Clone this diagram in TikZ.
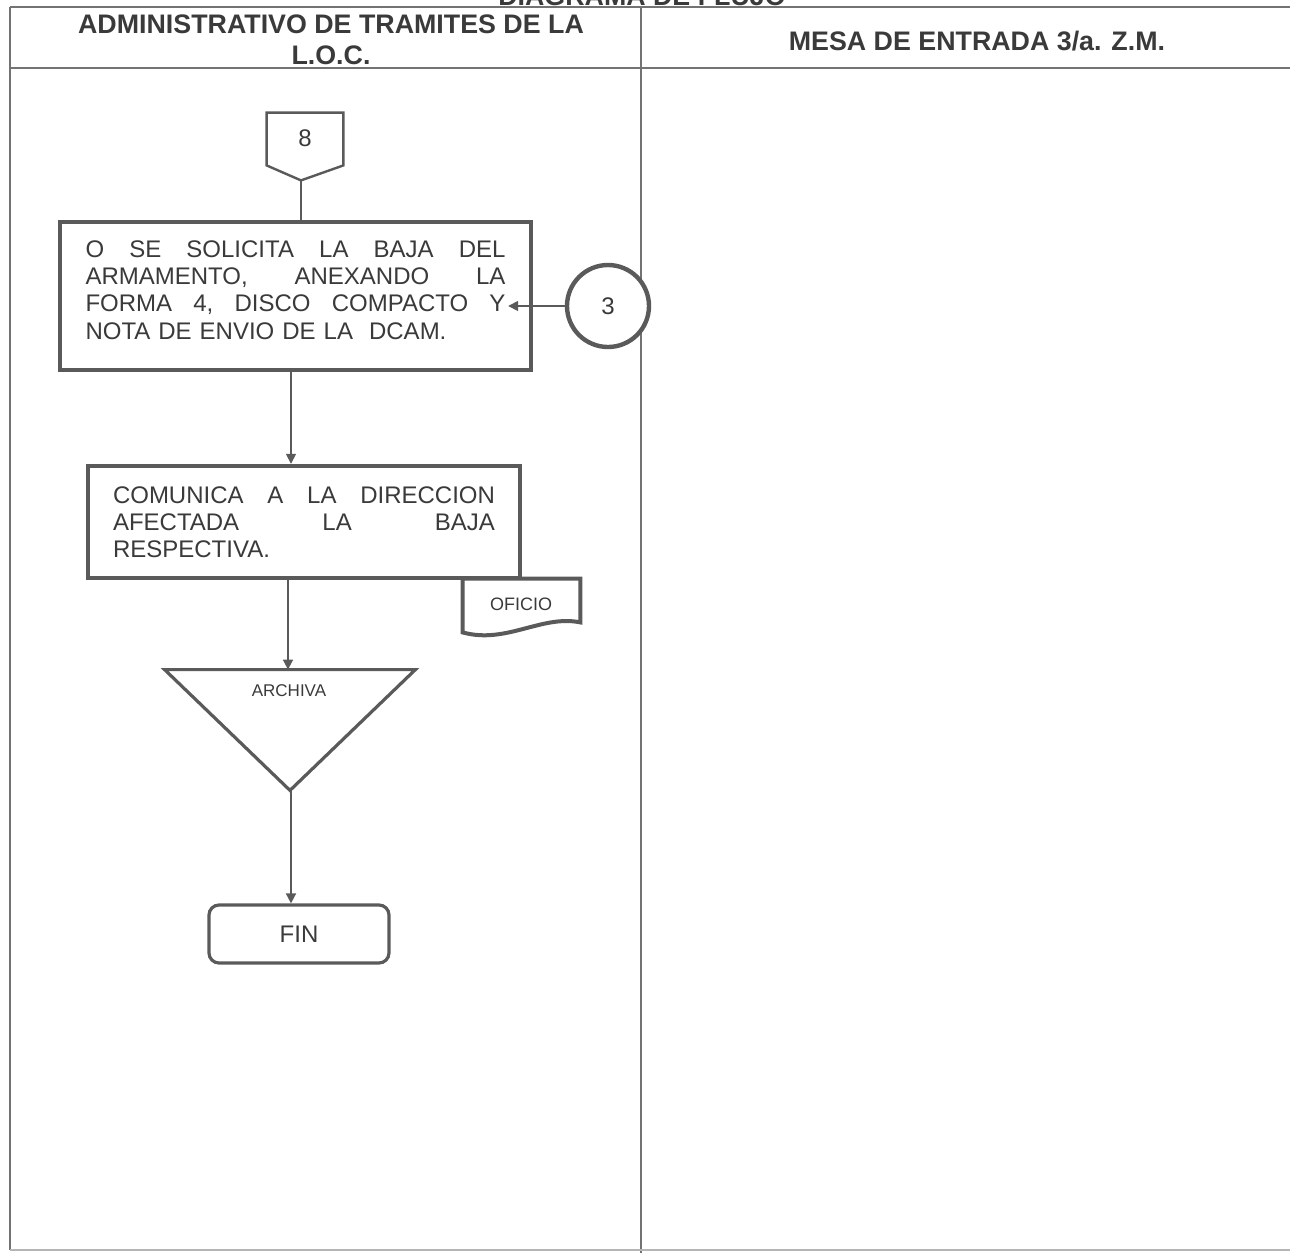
\documentclass[tikz,border=0pt]{standalone}
\usepackage{fontspec}
\setmainfont{Liberation Sans}
\usetikzlibrary{arrows.meta,calc}
\definecolor{ln}{HTML}{5A5A5A}
\definecolor{tx}{HTML}{3A3A3A}
\newcommand{\jline}[2]{\leavevmode\hbox to #1{#2}}
\begin{document}
\begin{tikzpicture}[x=0.5pt,y=-0.5pt,
  gridline/.style={draw=ln!85,line width=0.9pt},
  hdr/.style={font=\bfseries\fontsize{13.4}{15.5}\selectfont,text=tx,inner sep=0pt},
  procbox/.style={draw=ln,line width=2.2pt,fill=white,text=tx,font=\fontsize{12}{13.6}\selectfont,inner sep=0pt,align=left},
  bodytext/.style={text=tx,font=\fontsize{12}{13.6}\selectfont,inner sep=0pt,align=left},
  shapeline/.style={draw=ln,line width=1.2pt,fill=white},
  thickshape/.style={draw=ln,line width=2pt,fill=white},
  ghost/.style={inner sep=0pt,draw=none},
  small/.style={font=\fontsize{8.5}{10}\selectfont,text=tx,inner sep=0pt},
  flow/.style={draw=ln,line width=0.8pt,-{Triangle[length=5pt,width=5pt]}}]
\useasboundingbox (0,0) rectangle (1290,1253);
\clip (0,0) rectangle (1290,1253);

% title (cut off at top)
\node[hdr,anchor=base] (title) at (642,5) {DIAGRAMA DE FLUJO};

% table
\draw[gridline] (10,7) -- (1290,7);
\draw[gridline] (10,68) -- (1290,68);
\draw[gridline] (10,7) -- (10,1250);
\draw[gridline] (641,7) -- (641,1253);
\draw[gridline,draw=ln!45] (10,1250) -- (1290,1250);

\node[hdr,align=center] (h1) at (331,40) {ADMINISTRATIVO DE TRAMITES DE LA\\L.O.C.};
\node[hdr] (h2) at (977,41) {MESA DE ENTRADA 3/a. Z.M.};

% off-page connector 8
\node[ghost,minimum width=38pt,minimum height=26pt] (c8) at (305,139) {};
\draw[shapeline] (c8.north west) -- (c8.north east) -- (c8.south east)
   -- ($(c8.south)+(-4,15)$) -- (c8.south west) -- cycle;
\coordinate (c8tip) at ($(c8.south)+(-4,15)$);
\node[font=\fontsize{12}{14}\selectfont,text=tx] (n8) at (305,138) {8};

% box 1
\node[procbox,minimum width=235.5pt,minimum height=74pt] (b1) at (295.5,296) {};
\node[bodytext,text width=210pt] (b1t) at (295.5,290)
 {\jline{210pt}{O\hfill SE\hfill SOLICITA\hfill LA\hfill BAJA\hfill DEL}\\
  \jline{210pt}{ARMAMENTO,\hfill ANEXANDO\hfill LA}\\
  \jline{210pt}{FORMA\hfill 4,\hfill DISCO\hfill COMPACTO\hfill Y}\\
  NOTA DE ENVIO DE LA \ DCAM.};
\draw[draw=ln,line width=0.8pt] (c8tip) -- (c8tip |- b1.north);

% connector 3
\node[circle,thickshape,line width=2.2pt,minimum size=41pt,inner sep=0pt,font=\fontsize{12}{14}\selectfont,text=tx] (c3) at (608,306) {3};
\path (b1.east |- c3.west) ++(-25,0) coordinate (in3);
\draw[flow] (c3.west) -- (in3);

% box 2
\node[procbox,minimum width=216pt,minimum height=56pt,text width=191pt] (b2) at (304,522)
 {\jline{191pt}{COMUNICA\hfill A\hfill LA\hfill DIRECCION}\\
  \jline{191pt}{AFECTADA\hfill LA\hfill BAJA}\\
  RESPECTIVA.};
\path (b1.south) ++(-4.5,0) coordinate (a1);
\draw[flow] (a1) -- (a1 |- b2.north);

% document OFICIO
\node[ghost,minimum width=58.5pt,minimum height=26.5pt] (of) at (521.5,605.5) {};
\draw[thickshape] (of.south west) -- (of.north west) -- (of.north east) -- ($(of.south east)+(0,-10)$)
   .. controls ($(of.south)+(20,-18)$) and ($(of.south)+(-15,12)$) .. (of.south west) -- cycle;
\node[small,font=\fontsize{9}{10}\selectfont] (oft) at (521,604) {OFICIO};

% triangle ARCHIVA
\node[ghost,minimum width=125pt,minimum height=60pt] (tri) at (290,730) {};
\path (b2.south) ++(-16,0) coordinate (a2);
\draw[flow] (a2) -- (a2 |- tri.north);
\draw[shapeline,line width=1.6pt] (tri.north west) -- (tri.north east) -- (tri.south) -- cycle;
\node[small] (arch) at (289,691) {ARCHIVA};

% FIN
\node[draw=ln,line width=1.6pt,rounded corners=5pt,minimum width=90pt,minimum height=29pt,
      inner sep=0pt,font=\fontsize{12}{14}\selectfont,text=tx] (fin) at (299,934) {FIN};
\path (tri.south) ++(1,0) coordinate (a3);
\draw[flow] (a3) -- (a3 |- fin.north);
\end{tikzpicture}
\end{document}
